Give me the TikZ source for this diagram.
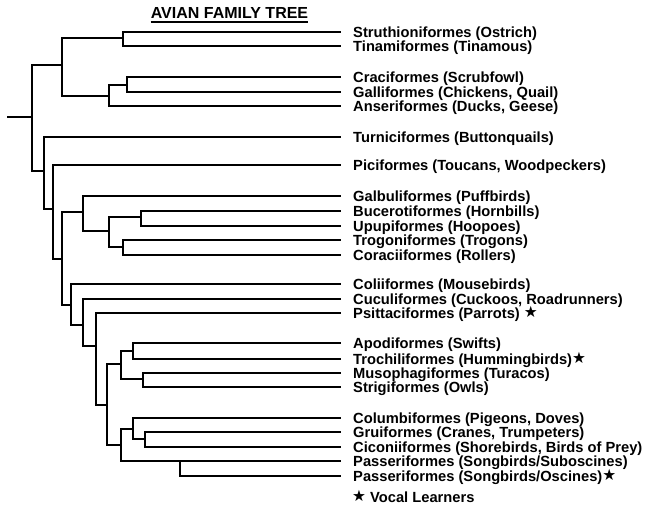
\documentclass[tikz,border=0pt]{standalone}
\usepackage{fontspec}
\setmainfont{Liberation Sans}
\newfontfamily\starfont{DejaVu Sans}
\newcommand{\vstar}{\raisebox{0.3pt}{\starfont\fontsize{15.5}{15.5}\selectfont ★}}
\begin{document}
\begin{tikzpicture}[x=1pt,y=-1pt,
  br/.style={line width=1.4pt,line cap=rect},
  lab/.style={anchor=base west,inner sep=0pt,font=\fontsize{14.7}{14.7}\selectfont\bfseries}]
\useasboundingbox (0,0) rectangle (647,506);
% leaves
\foreach \n/\y in {L1/32,L2/46,L3/77,L4/92,L5/106,L6/137,L7/165,L8/196,L9/211,L10/226,L11/240,L12/255,L13/284,L14/299,L15/313,L16/343,L17/359,L18/373,L19/387,L20/418,L21/432,L22/447,L23/461,L24/476}
  \coordinate (\n) at (340,\y);
% internal nodes
\coordinate (root0) at (8,117);
\coordinate (r) at (32,117);
\coordinate (a) at (62,65);
\coordinate (s1) at (123,38);
\coordinate (s2) at (109,96);
\coordinate (s3) at (127,85);
\coordinate (b) at (44,171);
\coordinate (c) at (53,209);
\coordinate (d) at (62,259);
\coordinate (e) at (83,212);
\coordinate (g) at (109,231);
\coordinate (h) at (141,217);
\coordinate (i) at (123,247);
\coordinate (f) at (71,305);
\coordinate (j) at (83,325);
\coordinate (k) at (96,346);
\coordinate (l) at (107,405);
\coordinate (m) at (121,364);
\coordinate (n) at (121,445);
\coordinate (o) at (133,351);
\coordinate (p) at (143,379);
\coordinate (q) at (133,429);
\coordinate (r2) at (145,439);
\coordinate (t) at (180,461);
% branches
\draw[br] (root0) -- (r);
\foreach \u/\v in {r/a,r/b,a/s1,a/s2,s1/L1,s1/L2,s2/s3,s2/L5,s3/L3,s3/L4,
  b/L6,b/c,c/L7,c/d,d/e,d/f,e/L8,e/g,g/h,g/i,h/L9,h/L10,i/L11,i/L12,
  f/L13,f/j,j/L14,j/k,k/L15,k/l,l/m,l/n,m/o,m/p,o/L16,o/L17,p/L18,p/L19,
  n/q,n/L23,q/L20,q/r2,r2/L21,r2/L22,t/L24}
  \draw[br] (\u) |- (\v);
% title
\node[anchor=base,inner sep=0pt,font=\fontsize{16}{16}\selectfont\bfseries] (title) at (229.5,18.5) {AVIAN FAMILY TREE};
\draw[line width=1.3pt] ([yshift=-3.6pt]title.base west) -- ([yshift=-3.6pt]title.base east);
% labels
\node[lab] (t1) at ([xshift=13pt,yshift=-5pt]L1) {Struthioniformes (Ostrich)};
\node[lab] (t2) at ([xshift=13pt,yshift=-5pt]L2) {Tinamiformes (Tinamous)};
\node[lab] (t3) at ([xshift=13pt,yshift=-5pt]L3) {Craciformes (Scrubfowl)};
\node[lab] (t4) at ([xshift=13pt,yshift=-5pt]L4) {Galliformes (Chickens, Quail)};
\node[lab] (t5) at ([xshift=13pt,yshift=-5pt]L5) {Anseriformes (Ducks, Geese)};
\node[lab] (t6) at ([xshift=13pt,yshift=-5pt]L6) {Turniciformes (Buttonquails)};
\node[lab] (t7) at ([xshift=13pt,yshift=-5pt]L7) {Piciformes (Toucans, Woodpeckers)};
\node[lab] (t8) at ([xshift=13pt,yshift=-5pt]L8) {Galbuliformes (Puffbirds)};
\node[lab] (t9) at ([xshift=13pt,yshift=-5pt]L9) {Bucerotiformes (Hornbills)};
\node[lab] (t10) at ([xshift=13pt,yshift=-5pt]L10) {Upupiformes (Hoopoes)};
\node[lab] (t11) at ([xshift=13pt,yshift=-5pt]L11) {Trogoniformes (Trogons)};
\node[lab] (t12) at ([xshift=13pt,yshift=-5pt]L12) {Coraciiformes (Rollers)};
\node[lab] (t13) at ([xshift=13pt,yshift=-5pt]L13) {Coliiformes (Mousebirds)};
\node[lab] (t14) at ([xshift=13pt,yshift=-5pt]L14) {Cuculiformes (Cuckoos, Roadrunners)};
\node[lab] (t15) at ([xshift=13pt,yshift=-5pt]L15) {Psittaciformes (Parrots) \vstar};
\node[lab] (t16) at ([xshift=13pt,yshift=-5pt]L16) {Apodiformes (Swifts)};
\node[lab] (t17) at ([xshift=13pt,yshift=-5pt]L17) {Trochiliformes (Hummingbirds)\vstar};
\node[lab] (t18) at ([xshift=13pt,yshift=-5pt]L18) {Musophagiformes (Turacos)};
\node[lab] (t19) at ([xshift=13pt,yshift=-5pt]L19) {Strigiformes (Owls)};
\node[lab] (t20) at ([xshift=13pt,yshift=-5pt]L20) {Columbiformes (Pigeons, Doves)};
\node[lab] (t21) at ([xshift=13pt,yshift=-5pt]L21) {Gruiformes (Cranes, Trumpeters)};
\node[lab] (t22) at ([xshift=13pt,yshift=-5pt]L22) {Ciconiiformes (Shorebirds, Birds of Prey)};
\node[lab] (t23) at ([xshift=13pt,yshift=-5pt]L23) {Passeriformes (Songbirds/Suboscines)};
\node[lab] (t24) at ([xshift=13pt,yshift=-5pt]L24) {Passeriformes (Songbirds/Oscines)\vstar};
\node[lab] (leg) at (352,502) {\vstar\ Vocal Learners};
\end{tikzpicture}
\end{document}
